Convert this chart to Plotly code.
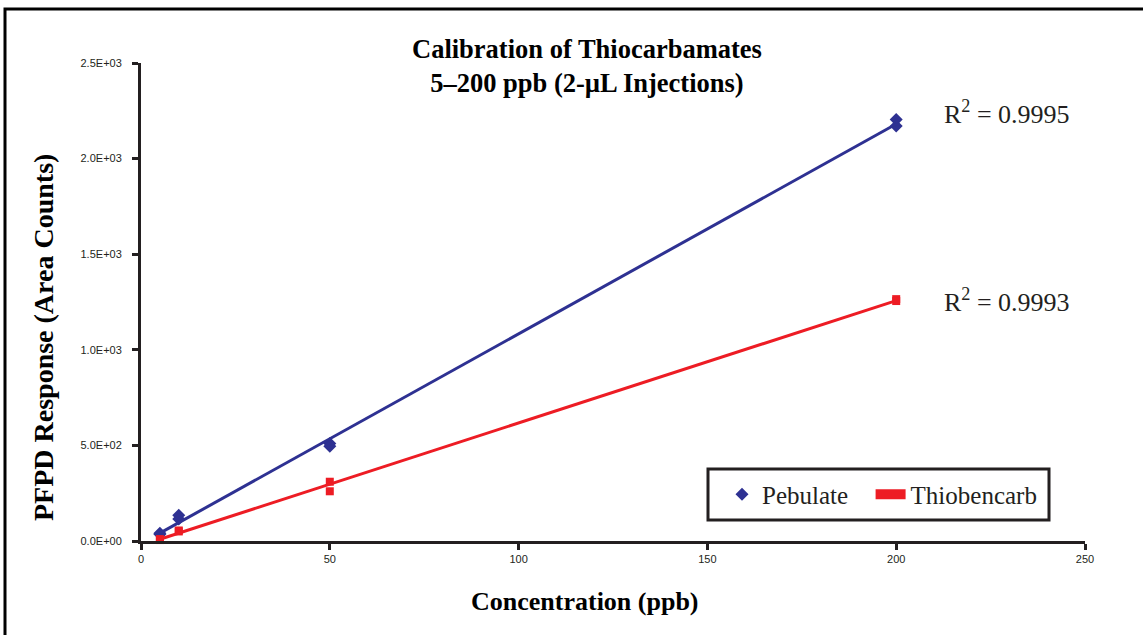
import numpy as np
import plotly.graph_objects as go

# ---- data ----
conc = [5, 5, 10, 10, 50, 50, 200, 200]
pebulate = [40, 35, 135, 115, 510, 495, 2205, 2170]
thiobencarb = [10, 5, 55, 50, 310, 260, 1265, 1255]
series_names = ["Pebulate", "Thiobencarb"]
r2_labels = ["R<sup>2</sup> = 0.9995", "R<sup>2</sup> = 0.9993"]
x_ticks = [0, 50, 100, 150, 200, 250]
y_ticks = [0, 500, 1000, 1500, 2000, 2500]
y_tick_text = ["0.0E+00", "5.0E+02", "1.0E+03", "1.5E+03", "2.0E+03", "2.5E+03"]

BLUE = "#2E3192"
RED = "#ED1C24"
INK = "#231F20"
SERIF = "Liberation Serif"
SANS = "Liberation Sans"

W, H = 1143, 635
L, R, T, B = 141, 1085, 63, 541


def px(xp):
    return (xp - L) / (R - L)


def py(yp):
    return (B - yp) / (B - T)


fig = go.Figure()

# markers
fig.add_trace(go.Scatter(x=conc, y=pebulate, mode="markers",
                         name=series_names[0] + "\u00a0\u00a0\u2009",
                         marker=dict(symbol="diamond", size=10, color=BLUE),
                         cliponaxis=False, showlegend=True))
fig.add_trace(go.Scatter(x=conc, y=thiobencarb, mode="markers", name=series_names[1],
                         marker=dict(symbol="square", size=8, color=RED),
                         cliponaxis=False, showlegend=False))
# legend entry for Thiobencarb (wide red bar as in the reference)
fig.add_trace(go.Scatter(x=[None], y=[None], mode="lines", name=series_names[1],
                         line=dict(color=RED, width=10), showlegend=True))

# linear trendlines (least-squares fits of the data)
xs = np.array([min(conc), max(conc)], dtype=float)
for ys, col in ((pebulate, BLUE), (thiobencarb, RED)):
    m, c = np.polyfit(conc, ys, 1)
    fig.add_trace(go.Scatter(x=xs, y=m * xs + c, mode="lines",
                             line=dict(color=col, width=3), showlegend=False,
                             hoverinfo="skip", cliponaxis=False))

annotations = [
    dict(text="<b>Calibration of Thiocarbamates<br>5\u2013200 ppb (2-\u00b5L Injections)</b>",
         x=px(587), y=py(66), xref="paper", yref="paper", showarrow=False,
         xanchor="center", yanchor="middle",
         font=dict(family=SERIF, size=26.5, color="black")),
    dict(text="<b>Concentration (ppb)</b>", x=px(585), y=py(601), xref="paper", yref="paper",
         showarrow=False, xanchor="center", yanchor="middle",
         font=dict(family=SERIF, size=26, color="black")),
    dict(text="<b>PFPD Response (Area Counts)</b>", x=px(43), y=py(338), xref="paper",
         yref="paper", showarrow=False, xanchor="center", yanchor="middle", textangle=-90,
         font=dict(family=SERIF, size=28, color="black")),
    dict(text=r2_labels[0], x=px(942), y=py(112), xref="paper", yref="paper",
         showarrow=False, xanchor="left", yanchor="middle",
         font=dict(family=SERIF, size=26, color=INK)),
    dict(text=r2_labels[1], x=px(942), y=py(300), xref="paper", yref="paper",
         showarrow=False, xanchor="left", yanchor="middle",
         font=dict(family=SERIF, size=26, color=INK)),
]

shapes = [
    # outer frame
    dict(type="rect", xref="paper", yref="paper", x0=px(5), x1=px(1160), y0=py(700), y1=py(9),
         line=dict(color="black", width=3), fillcolor="rgba(0,0,0,0)", layer="below"),
    # legend frame
    dict(type="rect", xref="paper", yref="paper", x0=px(708), x1=px(1049), y0=py(520), y1=py(469),
         line=dict(color=INK, width=3), fillcolor="white", layer="below"),
]

fig.update_layout(
    width=W, height=H,
    margin=dict(l=L, r=W - R, t=T, b=H - B),
    paper_bgcolor="white", plot_bgcolor="rgba(0,0,0,0)",
    annotations=annotations, shapes=shapes,
    legend=dict(orientation="h", x=px(722), y=py(494.5), xanchor="left", yanchor="middle",
                borderwidth=0, bgcolor="rgba(0,0,0,0)",
                font=dict(family=SERIF, size=25, color=INK),
                itemclick=False, itemdoubleclick=False),
    showlegend=True,
    xaxis=dict(range=[0, 250], tickvals=x_ticks, ticktext=[str(v) for v in x_ticks],
               showgrid=False, zeroline=False, showline=True, linecolor=INK, linewidth=3,
               ticks="outside", ticklen=6, tickwidth=3, tickcolor=INK,
               tickfont=dict(family=SANS, size=11, color=INK)),
    yaxis=dict(range=[0, 2500], tickvals=y_ticks, ticktext=y_tick_text,
               showgrid=False, zeroline=False, showline=True, linecolor=INK, linewidth=3,
               ticks="outside", ticklen=6, tickwidth=3, tickcolor=INK, ticklabelstandoff=8,
               tickfont=dict(family=SANS, size=11, color=INK)),
)

fig.write_html("out.html")
